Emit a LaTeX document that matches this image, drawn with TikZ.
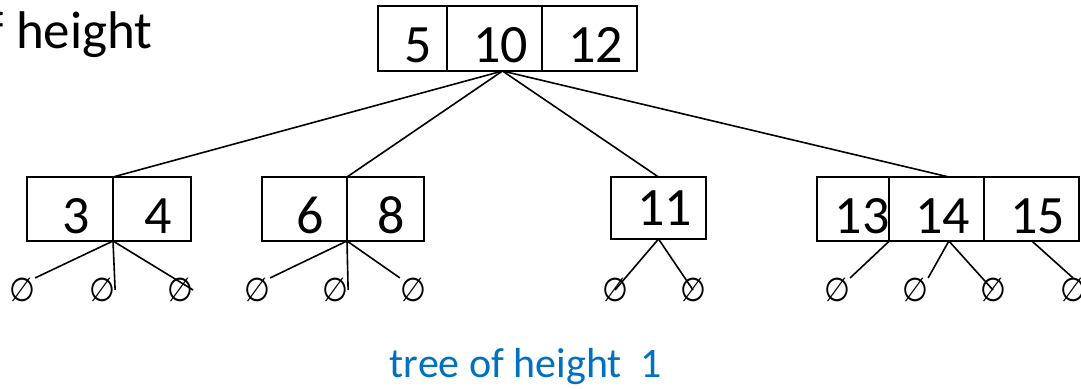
\documentclass[tikz,border=0pt]{standalone}
\usepackage{fontspec}
\setmainfont{Carlito}
\newfontfamily\symfont{DejaVu Sans Condensed}
\usepackage{tikz}
\usetikzlibrary{positioning}
\definecolor{capblue}{RGB}{0,112,192}
\tikzstyle{cell} = [rectangle, draw=black, line width=2pt, outer sep=0pt, inner sep=0pt, minimum height=65pt, text height=48pt, text depth=0pt, font=\fontsize{54}{54}\selectfont, execute at begin node={\hspace*{12pt}}]
\tikzstyle{leafcell} = [cell, minimum height=64pt]
\tikzstyle{nil} = [inner sep=0pt, font=\symfont\fontsize{33}{33}\selectfont]
\tikzstyle{edge} = [line width=1.6pt]

\begin{document}
\begin{tikzpicture}[x=1pt, y=-1pt]
\useasboundingbox (0,0) rectangle (1081,388);
\node (title) [anchor=base east, font=\fontsize{53}{53}\selectfont] at (156,48) {f height};
% root
\node (t5) [cell, minimum width=69pt] at (412.5,38.5) {5};
\node (t10) [cell, minimum width=95pt, right=0pt of t5] {10};
\node (t12) [cell, minimum width=95pt, right=0pt of t10] {12};
% children
\node (a3) [leafcell, minimum width=86pt] at (70,209) {3};
\node (a4) [leafcell, minimum width=78pt, right=0pt of a3] {4};
\node (b6) [leafcell, minimum width=85pt] at (304.5,209) {6};
\node (b8) [leafcell, minimum width=77pt, right=0pt of b6] {8};
\node (c11) [leafcell, minimum width=95pt, minimum height=62pt, text height=34pt, execute at begin node={}] at (658.5,208) {11};
\node (d13) [leafcell, minimum width=68pt, execute at begin node={\hspace*{6pt}}] at (853,209) {13};
\node (d14) [leafcell, minimum width=95pt, right=0pt of d13] {14};
\node (d15) [leafcell, minimum width=95pt, right=0pt of d14] {15};
% empty subtrees
\foreach \i/\x in {1/22, 2/102, 3/180, 4/257, 5/335, 6/413, 7/615, 8/693, 9/837, 10/915, 11/993, 12/1073}
  \node (n\i) [nil] at (\x,290) {∅};

\draw [edge] ([xshift=8pt]t10.south) -- (a3.north east);
\draw [edge] ([xshift=8pt]t10.south) -- (b6.north east);
\draw [edge] ([xshift=8pt]t10.south) -- (c11.north);
\draw [edge] ([xshift=8pt]t10.south) -- ([xshift=12pt]d14.north);

\draw [edge] (a3.south east) -- (n1.north east);
\draw [edge] (a3.south east) -- (n2.east);
\draw [edge] (a3.south east) -- (n3.east);
\draw [edge] (b6.south east) -- (n4.north east);
\draw [edge] (b6.south east) -- (n5.east);
\draw [edge] (b6.south east) -- (n6.north west);
\draw [edge] (c11.south) -- (n7.center);
\draw [edge] (c11.south) -- (n8.center);
\draw [edge] (d13.south east) -- (n9.north east);
\draw [edge] ([xshift=12pt]d14.south) -- (n10.north east);
\draw [edge] ([xshift=12pt]d14.south) -- (n11.center);
\draw [edge] (d15.south) -- (n12.north);

\node (caption) [text=capblue, font=\fontsize{42}{42}\selectfont, anchor=base] at (526,377) {tree of height\ \ 1};
\end{tikzpicture}
\end{document}
